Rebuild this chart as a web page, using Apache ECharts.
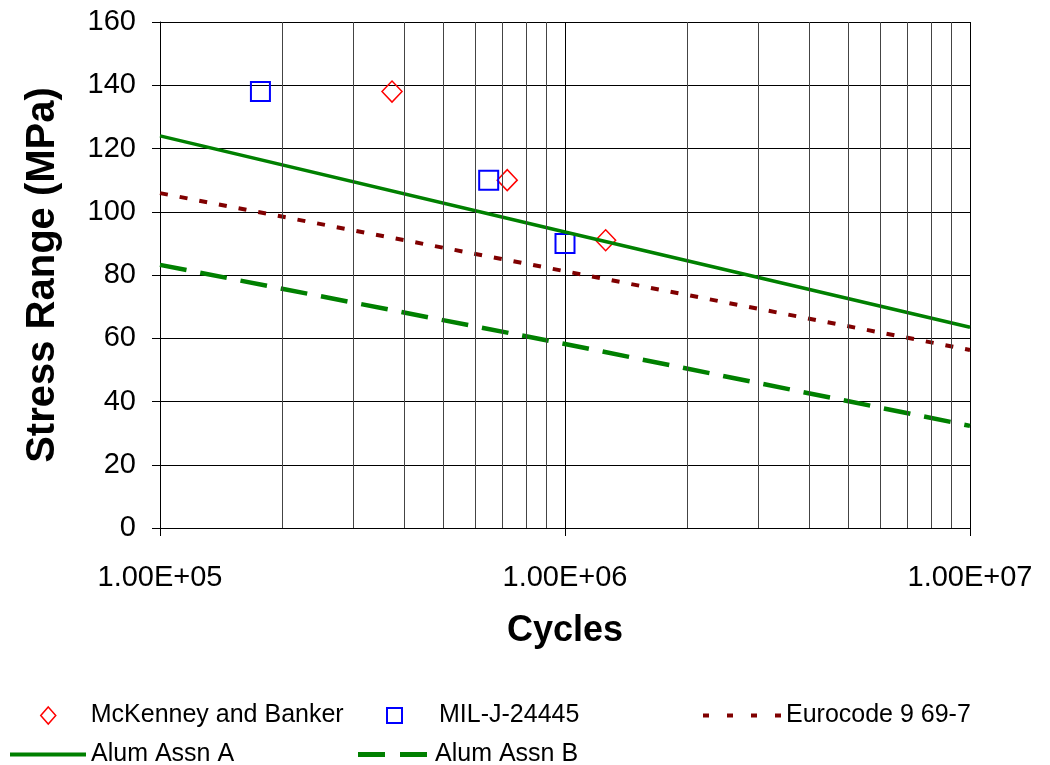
<!DOCTYPE html>
<html>
<head>
<meta charset="utf-8">
<script src="https://cdn.jsdelivr.net/npm/echarts@6/dist/echarts.min.js"></script>
<style>
html,body{margin:0;padding:0;background:#fff;}
#chart{width:1050px;height:765px;}
</style>
</head>
<body>
<div id="chart"></div>
<script>
// ---- data ----
const xTickLabels = ['1.00E+05', '1.00E+06', '1.00E+07'];
const xMinorValues = [2e5, 3e5, 4e5, 5e5, 6e5, 7e5, 8e5, 9e5, 2e6, 3e6, 4e6, 5e6, 6e6, 7e6, 8e6, 9e6];

const mckCycles = [3.74e5, 7.2e5, 1.26e6];
const mckStress = [138, 110, 91];

const milCycles = [1.77e5, 6.48e5, 1.0e6];
const milStress = [138, 110, 90];

const curveCycles = [1e5, 1e6, 1e7];
const alumA = [124, 93.6, 63.5];
const eurocode = [105.9, 81.2, 56.3];
const alumB = [83.2, 58.2, 32.3];

const FONT = '"Liberation Sans", Arial, sans-serif';

const zip = (xs, ys) => xs.map((x, i) => [x, ys[i]]);

const chart = echarts.init(document.getElementById('chart'), null, {renderer: 'canvas'});

function legendAt(item, left, top, itemWidth, itemHeight, textPad) {
  return {
    data: [item],
    left: left, top: top,
    itemWidth: itemWidth, itemHeight: itemHeight,
    padding: 0,
    selectedMode: false,
    textStyle: {fontFamily: FONT, fontSize: 25, color: '#000', padding: [0, 0, 0, textPad]}
  };
}

const option = {
  backgroundColor: '#fff',
  animation: false,
  grid: {left: 160, right: 80, top: 22, bottom: 237, containLabel: false},
  legend: [
    legendAt({name: 'McKenney and Banker', icon: 'diamond',
              itemStyle: {color: 'rgba(255,255,255,0)', borderColor: '#ff0000', borderWidth: 1.5}},
             40, 703, 15, 17, 30),
    legendAt({name: 'MIL-J-24445', icon: 'rect',
              itemStyle: {color: 'rgba(255,255,255,0)', borderColor: '#0000ff', borderWidth: 2}},
             386, 703, 15, 15, 32),
    legendAt({name: 'Eurocode 9 69-7',
              icon: 'path://M0,0h6v4h-6z M24,0h6v4h-6z M48,0h6v4h-6z M72,0h6v4h-6z',
              itemStyle: {color: '#800000', borderWidth: 0}},
             703, 703, 78, 4, 0),
    legendAt({name: 'Alum Assn A', icon: 'path://M0,0h76v4h-76z',
              itemStyle: {color: '#008000', borderWidth: 0}},
             10, 742, 76, 4, 0),
    legendAt({name: 'Alum Assn B', icon: 'path://M0,0h27v5h-27z M42,0h27v5h-27z',
              itemStyle: {color: '#008000', borderWidth: 0}},
             358, 742, 69, 5, 3)
  ],
  xAxis: {
    type: 'log', logBase: 10, min: 1e5, max: 1e7,
    name: 'Cycles', nameLocation: 'middle', nameGap: 85,
    nameTextStyle: {fontFamily: FONT, fontSize: 36, fontWeight: 'bold', color: '#000'},
    axisLine: {show: true, lineStyle: {color: '#000', width: 1}},
    axisTick: {show: true, inside: false, length: 8, lineStyle: {color: '#000'}},
    axisLabel: {
      fontFamily: FONT, fontSize: 29, color: '#000', margin: 35,
      formatter: v => xTickLabels[Math.round(Math.log10(v)) - 5] || ''
    },
    splitLine: {show: true, lineStyle: {color: '#000', width: 1}}
  },
  yAxis: {
    type: 'value', min: 0, max: 160, interval: 20,
    name: 'Stress Range (MPa)', nameLocation: 'middle', nameGap: 97, nameRotate: 90,
    nameTextStyle: {fontFamily: FONT, fontSize: 40, fontWeight: 'bold', color: '#000'},
    axisLine: {show: true, lineStyle: {color: '#000', width: 1}},
    axisTick: {show: true, inside: false, length: 8, lineStyle: {color: '#000'}},
    axisLabel: {fontFamily: FONT, fontSize: 29, color: '#000', margin: 24},
    splitLine: {show: true, lineStyle: {color: '#000', width: 1}}
  },
  series: [
    {
      name: 'minor-grid', type: 'line', data: [], silent: true,
      markLine: {
        silent: true, symbol: 'none', animation: false,
        label: {show: false},
        lineStyle: {color: '#444', width: 1, type: 'solid'},
        data: xMinorValues.map(v => ({xAxis: v}))
      }
    },
    {
      name: 'Alum Assn A', type: 'line', data: zip(curveCycles, alumA),
      symbol: 'none', lineStyle: {color: '#008000', width: 3.5, type: 'solid'},
      itemStyle: {color: '#008000'}
    },
    {
      name: 'Eurocode 9 69-7', type: 'line', data: zip(curveCycles, eurocode),
      symbol: 'none', lineStyle: {color: '#800000', width: 4, type: [8, 12]},
      itemStyle: {color: '#800000'}
    },
    {
      name: 'Alum Assn B', type: 'line', data: zip(curveCycles, alumB),
      symbol: 'none', lineStyle: {color: '#008000', width: 4.5, type: [27, 14]},
      itemStyle: {color: '#008000'}
    },
    {
      name: 'McKenney and Banker', type: 'scatter', data: zip(mckCycles, mckStress),
      symbol: 'diamond', symbolSize: [20, 21],
      itemStyle: {color: 'rgba(255,255,255,0)', borderColor: '#ff0000', borderWidth: 1.5, opacity: 1}
    },
    {
      name: 'MIL-J-24445', type: 'scatter', data: zip(milCycles, milStress),
      symbol: 'rect', symbolSize: [19, 19],
      itemStyle: {color: 'rgba(255,255,255,0)', borderColor: '#0000ff', borderWidth: 2, opacity: 1}
    }
  ]
};
chart.setOption(option);
</script>
</body>
</html>
